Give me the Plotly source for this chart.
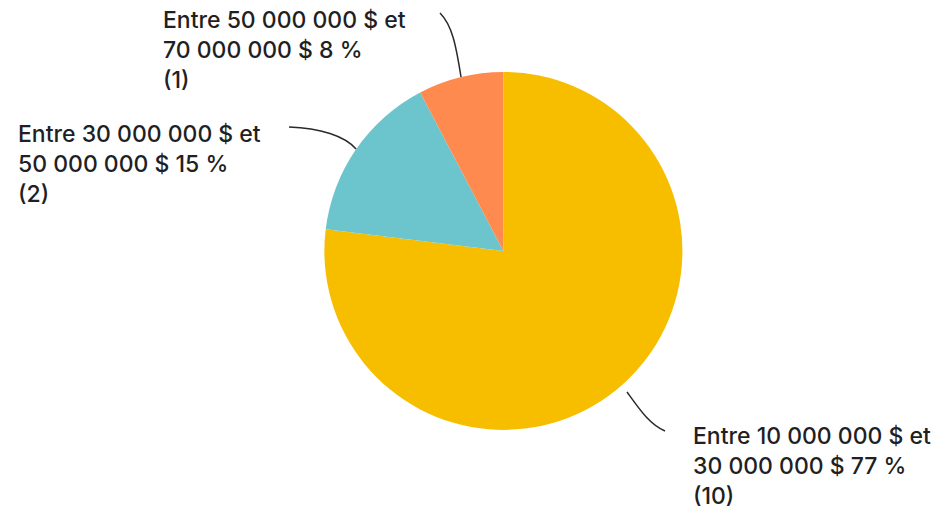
import plotly.graph_objects as go

labels = ["Entre 10 000 000 $ et 30 000 000 $", "Entre 30 000 000 $ et 50 000 000 $", "Entre 50 000 000 $ et 70 000 000 $"]
counts = [10, 2, 1]
percents = ["77 %", "15 %", "8 %"]
colors = ["#F7BE00", "#6CC5CC", "#FF8A50"]

W, H = 948, 510

def px(x, y):
    return x / W, 1 - y / H

fig = go.Figure(go.Pie(
    labels=labels, values=counts, sort=False, direction="clockwise", rotation=0,
    marker=dict(colors=colors, line=dict(width=0)), textinfo="none",
    domain=dict(x=[0.3, 0.762], y=[0.157, 0.859]), showlegend=False,
))

font = dict(family="Inter, Roboto, sans-serif", size=23, color="#1f1f24", weight=500)
# label anchors (pixel positions, left/middle of the text block)
label_pos = [(691, 466), (16, 164), (161, 50)]
for (lab, n, p, (x, y)) in zip(labels, counts, percents, label_pos):
    a, b = lab.split(" et ")
    text = f"{a} et<br>{b} {p}<br>({n})"
    xx, yy = px(x, y)
    fig.add_annotation(x=xx, y=yy, xref="paper", yref="paper", text=text, showarrow=False,
                       xanchor="left", yanchor="middle", align="left", font=font)

# leader lines (cubic bezier, pixel coordinates)
curves = [
    [(627, 392), (640, 410), (650, 425), (665, 431)],
    [(289, 127), (320, 128), (345, 136), (356, 149)],
    [(440, 13), (452, 25), (456, 45), (461, 77)],
]
for c in curves:
    pts = [px(*p) for p in c]
    path = "M {} {} C {} {}, {} {}, {} {}".format(*[v for pt in pts for v in pt])
    fig.add_shape(type="path", path=path, xref="paper", yref="paper",
                  line=dict(color="#2a2a2a", width=1.5))

fig.update_layout(width=W, height=H, margin=dict(l=0, r=0, t=0, b=0),
                  paper_bgcolor="white", plot_bgcolor="white")
fig.write_html("out.html", config={"displayModeBar": False},
               post_script="document.body.style.margin='0';document.body.style.overflow='hidden';")
